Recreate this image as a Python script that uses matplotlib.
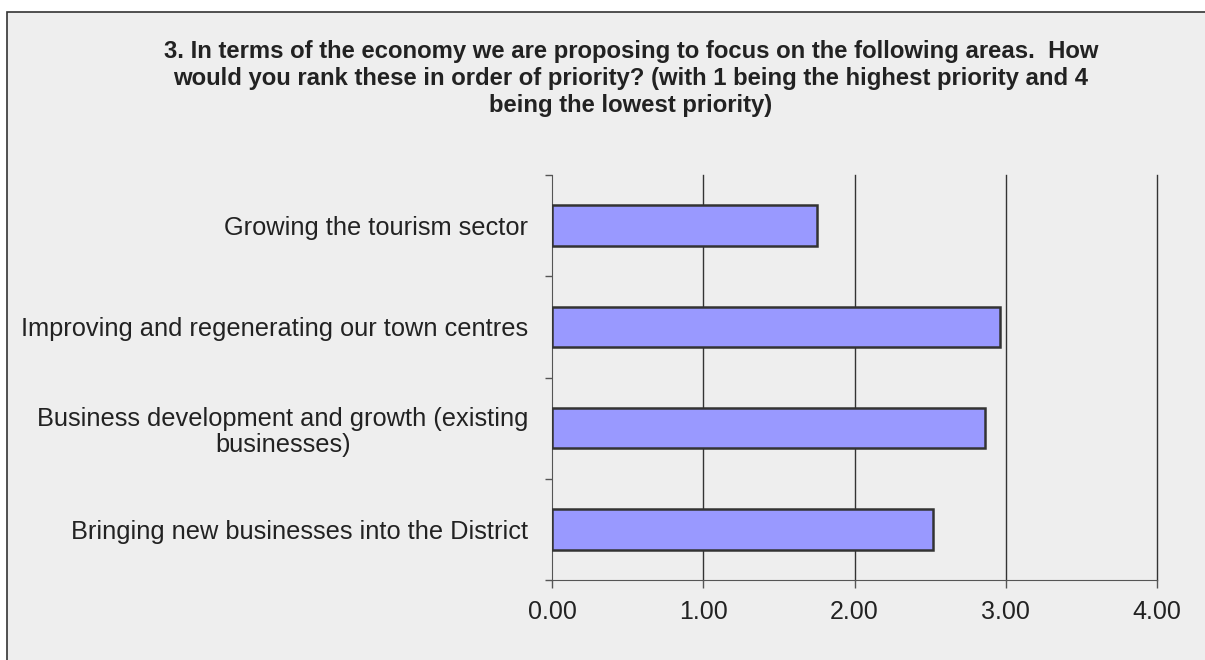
import matplotlib.pyplot as plt
from matplotlib.patches import Rectangle

# data
categories = [
    "Growing the tourism sector",
    "Improving and regenerating our town centres",
    "Business development and growth (existing\nbusinesses)",
    "Bringing new businesses into the District",
]
values = [1.75, 2.96, 2.86, 2.52]
xticks = [0, 1, 2, 3, 4]
xtick_labels = ["0.00", "1.00", "2.00", "3.00", "4.00"]

title = ("3. In terms of the economy we are proposing to focus on the following areas.  How\n"
         "would you rank these in order of priority? (with 1 being the highest priority and 4\n"
         "being the lowest priority)")

plt.rcParams['font.family'] = ['Liberation Sans', 'DejaVu Sans']

fig = plt.figure(figsize=(12.05, 6.6), dpi=100)
fig.patch.set_facecolor('white')

# grey chart area with border
frame = Rectangle((7 / 1205, -0.1), 1.2, 1 - 12 / 660 + 0.1, transform=fig.transFigure,
                  facecolor='#eeeeee', edgecolor='#333333', linewidth=1.2, zorder=-10)
fig.patches.append(frame)

ax = fig.add_axes([552 / 1205, 80 / 660, 605 / 1205, 405 / 660])
ax.set_facecolor('none')

ypos = list(range(len(categories)))
ax.barh(ypos, values, height=0.4, color='#9999ff', edgecolor='#333333', linewidth=1.8, zorder=3)

ax.set_xlim(0, 4)
ax.set_ylim(len(categories) - 0.5, -0.5)

# vertical gridlines (not clipped so the last one shows fully)
for x in xticks[1:]:
    ax.axvline(x, color='#333333', linewidth=1, zorder=0, clip_on=False)

ax.set_xticks(xticks)
ax.set_xticklabels(xtick_labels, fontsize=18, color='#222222')
ax.set_yticks(ypos)
ax.set_yticklabels(categories, fontsize=18.3, color='#222222', multialignment='center',
                   linespacing=1.15)
ax.set_yticks([i - 0.5 for i in range(len(categories) + 1)], minor=True)

ax.tick_params(axis='y', which='major', length=0, pad=17)
ax.tick_params(axis='y', which='minor', length=5, width=1, color='#555555', direction='out')
ax.tick_params(axis='x', length=6, width=1, color='#555555', direction='out', pad=8.5)

for s in ['top', 'right']:
    ax.spines[s].set_visible(False)
ax.spines['left'].set_color('#555555')
ax.spines['bottom'].set_color('#555555')

fig.text(631 / 1205, 1 - 40 / 660, title, ha='center', va='top', fontsize=17.2,
         fontweight='bold', color='#222222', linespacing=1.22)

fig.savefig('out.png', dpi=100)
